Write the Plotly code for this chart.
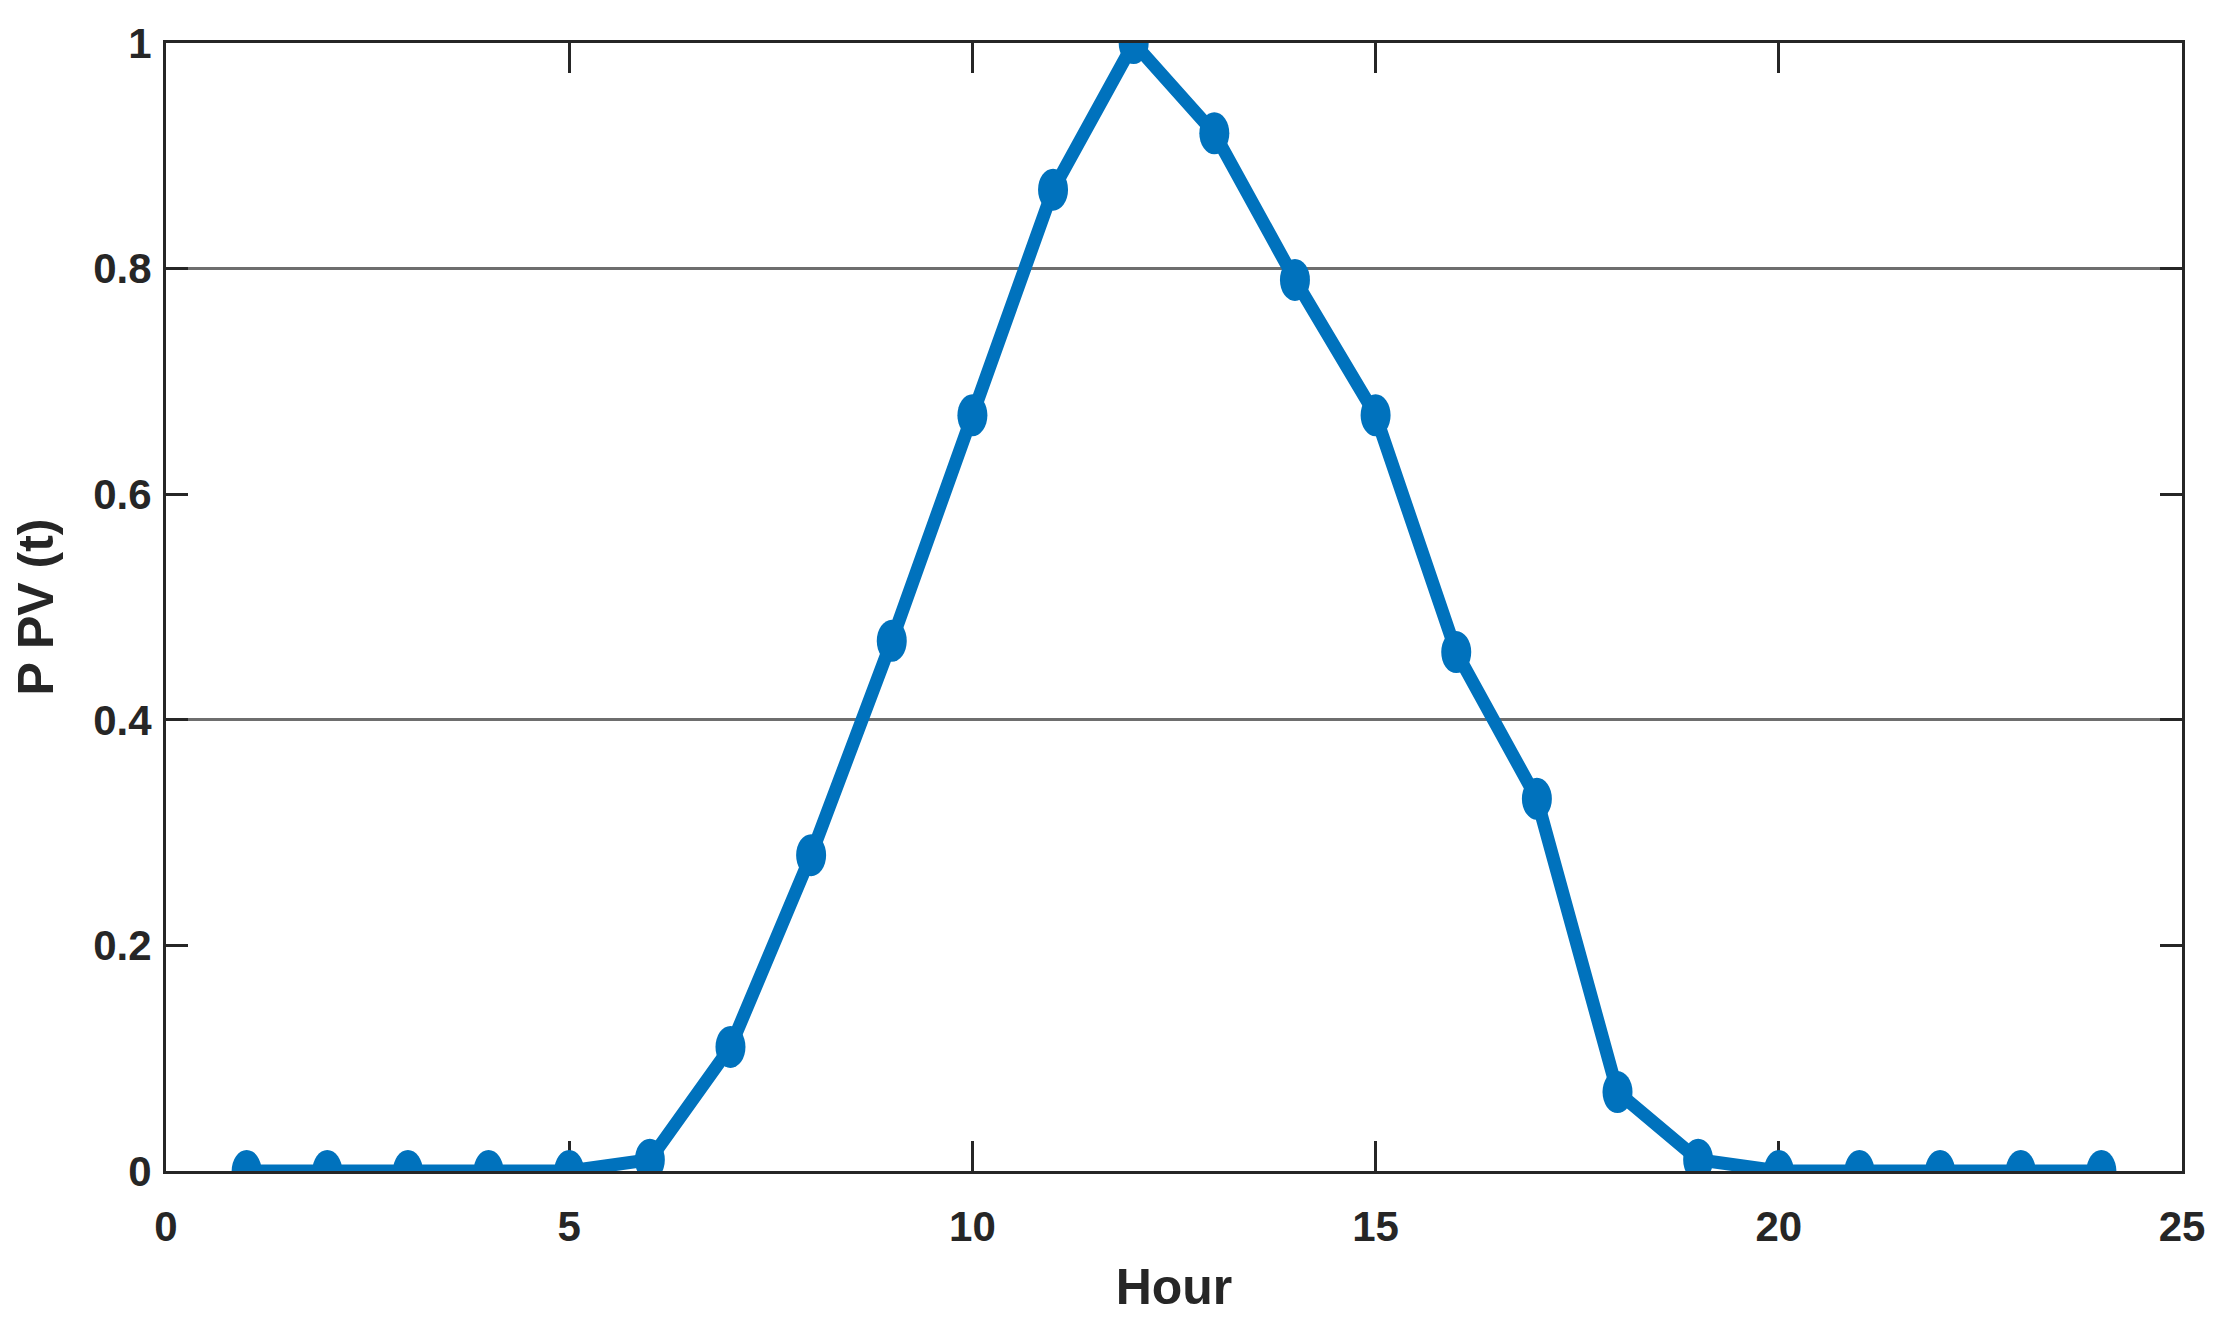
import plotly.graph_objects as go

hours = list(range(1, 25))
ppv = [0, 0, 0, 0, 0, 0.01, 0.11, 0.28, 0.47, 0.67, 0.87, 1.0,
       0.92, 0.79, 0.67, 0.46, 0.33, 0.07, 0.01, 0, 0, 0, 0, 0]
x_ticks = [0, 5, 10, 15, 20, 25]
y_ticks = [0, 0.2, 0.4, 0.6, 0.8, 1]
y_ticklabels = ["0", "0.2", "0.4", "0.6", "0.8", "1"]
grid_vals = [0.4, 0.8]

BLUE = "#0072BD"
AX = "#262626"
FONT = "Liberation Sans Narrow, Arial Narrow, Liberation Sans, Arial"

fig = go.Figure()
fig.add_trace(go.Scatter(x=hours, y=ppv, mode="lines",
                         line=dict(color=BLUE, width=13),
                         cliponaxis=False, showlegend=False))
# invisible trace hosting the grid axis
fig.add_trace(go.Scatter(x=[hours[0]], y=[ppv[0]], yaxis="y2", mode="lines",
                         line=dict(width=0), showlegend=False, hoverinfo="skip"))

shapes = []
for h, v in zip(hours, ppv):
    shapes.append(dict(type="circle", xref="x", yref="y",
                       xsizemode="pixel", ysizemode="pixel",
                       xanchor=h, yanchor=v,
                       x0=-15, x1=15, y0=-21, y1=21,
                       fillcolor=BLUE, line=dict(width=0), layer="above"))

fig.update_layout(
    template="none",
    width=2207, height=1318,
    margin=dict(l=158, r=33, t=35, b=155, autoexpand=False),
    plot_bgcolor="white", paper_bgcolor="white",
    shapes=shapes,
    xaxis=dict(range=[0, 25], tickvals=x_ticks, ticks="inside", ticklen=30,
               tickwidth=3, tickcolor=AX, showline=True, linewidth=3,
               linecolor=AX, mirror="ticks", showgrid=False, zeroline=False,
               automargin=False,
               tickfont=dict(family=FONT, size=42, color=AX, weight="bold"),
               ticklabelstandoff=17, layer="below traces",
               title=dict(text="Hour",
                          font=dict(family=FONT, size=50, color=AX, weight="bold"),
                          standoff=20)),
    yaxis=dict(range=[0, 1], tickvals=y_ticks, ticktext=y_ticklabels,
               ticks="inside", ticklen=22, tickwidth=3, tickcolor=AX,
               showline=True, linewidth=3, linecolor=AX, mirror="ticks",
               showgrid=False, zeroline=False, automargin=False,
               tickfont=dict(family=FONT, size=42, color=AX, weight="bold"),
               ticklabelstandoff=3, layer="below traces",
               title=dict(text="<b>P PV (t)</b>",
                          font=dict(family="Liberation Sans, Arial", size=50, color=AX),
                          standoff=31)),
    yaxis2=dict(range=[0, 1], overlaying="y", tickvals=grid_vals,
                showticklabels=False, showgrid=True, gridcolor="#6e6e6e",
                gridwidth=3, zeroline=False, showline=False, ticks="",
                automargin=False, layer="below traces"),
)

fig.write_html("out.html")
